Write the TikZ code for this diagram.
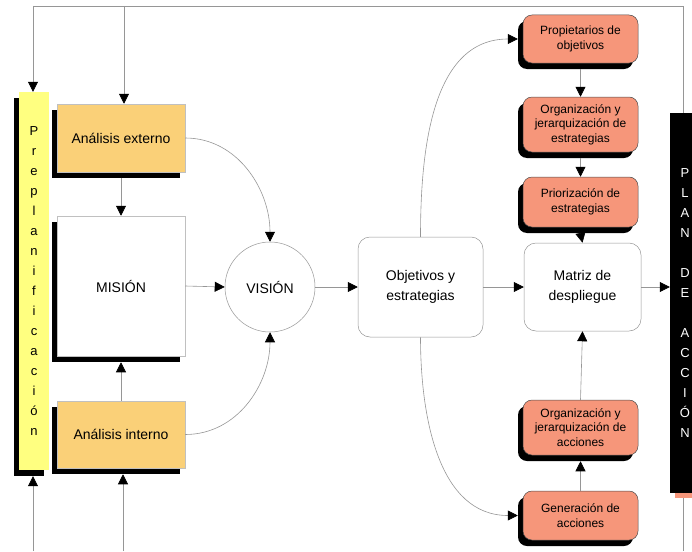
\documentclass[tikz,border=0pt]{standalone}
\usepackage{fontspec}
\setmainfont{Liberation Sans}
\usetikzlibrary{shadows,arrows.meta}
\definecolor{ana}{RGB}{250,208,120}
\definecolor{salm}{RGB}{246,150,122}
\definecolor{prey}{RGB}{255,255,128}
\definecolor{wire}{RGB}{150,150,150}
\tikzset{
  shade/.style={drop shadow={shadow xshift=-5pt,shadow yshift=-6pt,fill=black,opacity=1}},
  bigtext/.style={font=\fontsize{14}{20}\selectfont, align=center},
  anabox/.style={draw=wire!60, line width=0.5pt, fill=ana, minimum width=128pt, shade, bigtext, inner sep=0pt},
  misbox/.style={draw=wire!60, line width=0.5pt, fill=white, minimum width=128pt, minimum height=140pt, shade, bigtext, inner sep=0pt},
  visbox/.style={draw=wire, line width=0.5pt, fill=white, circle, minimum size=90pt, bigtext, inner sep=0pt},
  softbox/.style={draw=wire, line width=0.5pt, fill=white, rounded corners=12pt, bigtext, inner sep=0pt},
  salmbox/.style={draw=black!70, line width=0.5pt, fill=salm, rounded corners=9pt, minimum width=115pt, shade,
    font=\fontsize{12}{14.5}\selectfont, align=center, inner sep=0pt},
  prebox/.style={fill=prey, minimum width=30pt, minimum height=378pt, shade,
    font=\fontsize{13}{20}\selectfont, align=center, inner sep=0pt},
  planbox/.style={fill=black, text=white, minimum width=30pt, minimum height=380pt,
    drop shadow={shadow xshift=5pt,shadow yshift=-5pt,fill=salm,opacity=1},
    font=\fontsize{13}{20}\selectfont, align=center, inner sep=0pt},
  wireline/.style={draw=wire, line width=0.6pt},
  flow/.style={wireline, -{Triangle[length=10pt,width=10pt,color=black]}}
}
\begin{document}
\begin{tikzpicture}[x=1pt,y=1pt]
\useasboundingbox (0,0) rectangle (692,-551);

% left column
\node[prebox] (pre) at (34,-281) {P\\r\\e\\p\\l\\a\\n\\i\\f\\i\\c\\a\\c\\i\\ó\\n};
\node[anabox, minimum height=68pt] (ext) at (121,-138) {Análisis externo};
\node[misbox] (mis) at (121,-286) {MISIÓN};
\node[anabox, minimum height=67pt] (int) at (121,-434.5) {Análisis interno};

% centre
\node[visbox] (vis) at (270,-287) {VISIÓN};
\node[softbox, minimum width=125pt, minimum height=100pt] (obj) at (420.5,-287) {Objetivos y\\estrategias};
\node[softbox, minimum width=117pt, minimum height=88pt] (mat) at (582.5,-287) {Matriz de\\despliegue};

% right column
\node[salmbox, minimum height=48pt] (prop) at (580.5,-39) {Propietarios de\\objetivos};
\node[salmbox, minimum height=55pt] (orge) at (580.5,-124.5) {Organización y\\jerarquización de\\estrategias};
\node[salmbox, minimum height=50pt] (prio) at (580.5,-202) {Priorización de\\estrategias};
\node[salmbox, minimum height=55pt] (orga) at (580.5,-427.5) {Organización y\\jerarquización de\\acciones};
\node[salmbox, minimum height=49pt] (gen) at (580.5,-515.5) {Generación de\\acciones};

\node[planbox] (plan) at (685,-303) {P\\L\\A\\N\\~\\D\\E\\~\\A\\C\\C\\I\\Ó\\N};

% outer feedback frame
\coordinate (tl) at (33,-6);
\coordinate (tm) at (124,-6);
\coordinate (tr) at (683,-6);
\coordinate (bl) at (33,-551);
\coordinate (bm) at (123,-551);
\coordinate (br) at (683,-551);
\draw[wireline] (plan.north -| tr) -- (tr) -- (tl);
\draw[flow] (tl) -- (tl |- pre.north);
\draw[flow] (tm) -- (tm |- ext.north);
\draw[flow] (bl) -- ([yshift=-6pt]bl |- pre.south);
\draw[flow] (bm) -- ([yshift=-6pt]bm |- int.south);
\draw[wireline] ([yshift=-5pt]br |- plan.south) -- (br);

% main flow
\draw[flow] ([yshift=-6pt]ext.south) -- (mis.north);
\draw[flow] (int.north) -- ([yshift=-6pt]mis.south);
\draw[flow] (mis.east) -- (vis.west);
\draw[flow] (ext.east) to[out=0,in=90] (vis.north);
\draw[flow] (int.east) to[out=0,in=-90] (vis.south);
\draw[flow] (vis.east) -- (obj.west);
\draw[flow] (obj.east) -- (mat.west);
\draw[flow] (mat.east) -- (mat.east -| plan.west);

% strategy and action branches
\draw[flow] (obj.north) to[out=90,in=180] ([xshift=-5pt]prop.west);
\draw[flow] (obj.south) to[out=-90,in=180] ([xshift=-5pt]gen.west);
\draw[flow] ([yshift=-6pt]prop.south) -- (orge.north);
\draw[flow] ([yshift=-6pt]orge.south) -- (prio.north);
\draw[flow] ([yshift=-6pt]prio.south) -- (mat.north);
\draw[flow] (gen.north) -- ([yshift=-6pt]orga.south);
\draw[flow] (orga.north) -- (mat.south);
\end{tikzpicture}
\end{document}
